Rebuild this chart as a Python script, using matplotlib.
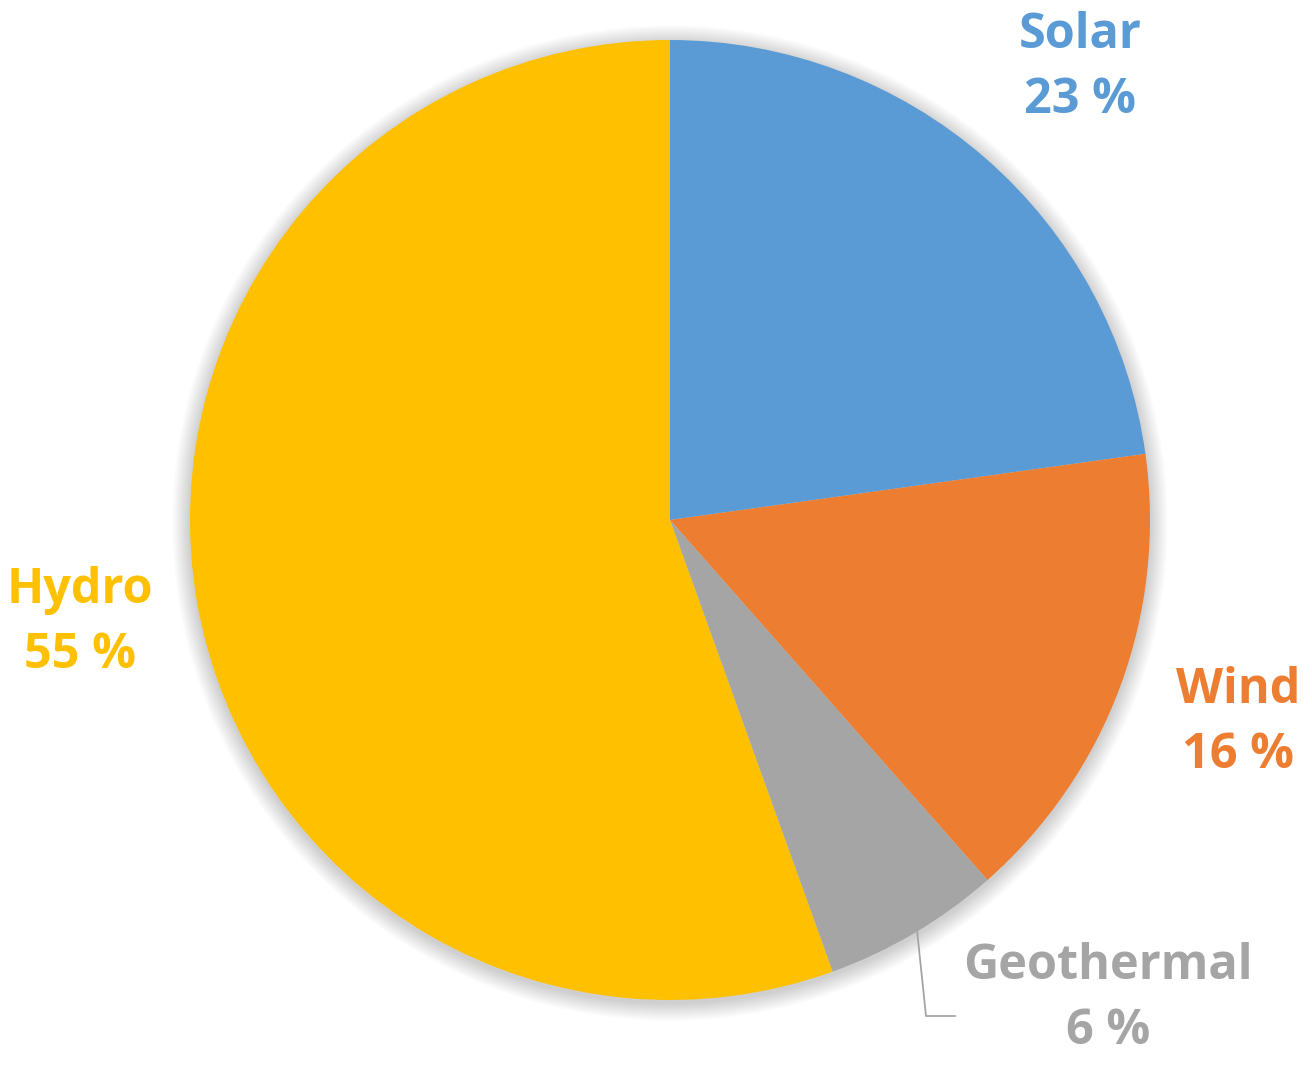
import matplotlib.pyplot as plt
from matplotlib.patches import Circle

# slice data, clockwise from 12 o'clock
sources = ["Solar", "Wind", "Geothermal", "Hydro"]
shares = [22.8, 15.7, 6.0, 55.5]
pct_labels = ["23 %", "16 %", "6 %", "55 %"]
colors = ["#5B9BD5", "#ED7D31", "#A5A5A5", "#FFC000"]

W, H = 1312, 1070
cx, cy, r = 670, H - 520, 480

fig = plt.figure(figsize=(W / 100, H / 100), dpi=100)
ax = fig.add_axes([0, 0, 1, 1])

# soft shadow around the pie
for k in range(24, 0, -1):
    ax.add_patch(Circle((cx, cy - 3), r + k * 0.75, color="black", alpha=0.009, lw=0, zorder=0))

ax.pie(shares, colors=colors, startangle=90, counterclock=False,
       center=(cx, cy), radius=r, frame=True,
       wedgeprops=dict(linewidth=0, zorder=2))
ax.set_xlim(0, W)
ax.set_ylim(0, H)
ax.set_aspect("equal")
ax.axis("off")

label_pos = {
    "Solar": (1080, 68),
    "Wind": (1238, 723),
    "Geothermal": (1108, 999),
    "Hydro": (80, 623),
}
for name, pct, col in zip(sources, pct_labels, colors):
    x, y = label_pos[name]
    ax.text(x, H - y, f"{name}\n{pct}", color=col, ha="center", va="center",
            fontsize=35, fontfamily="Open Sans", fontweight="bold",
            linespacing=1.42, zorder=5)

# leader line for geothermal
ax.plot([917, 926, 955], [H - 930, H - 1016, H - 1016], color="#A5A5A5", lw=1.3, zorder=3)

fig.savefig("out.png", dpi=100)
